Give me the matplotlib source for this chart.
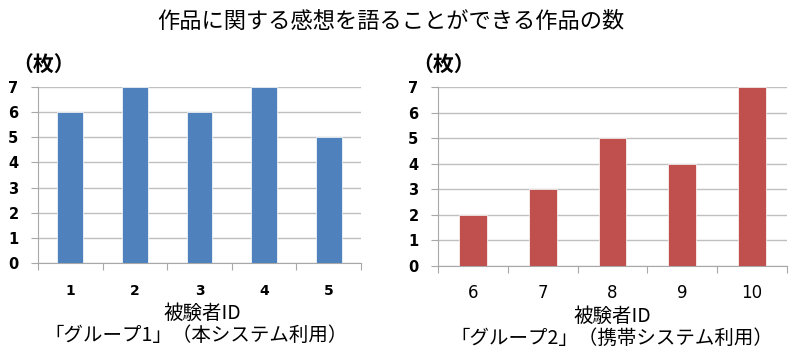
import numpy as np
import matplotlib
matplotlib.use("Agg")
import matplotlib.pyplot as plt

plt.rcParams['font.family'] = ['Noto Sans CJK JP', 'DejaVu Sans']

# data
ids_g1 = ["1", "2", "3", "4", "5"]
counts_g1 = [6, 7, 6, 7, 5]
ids_g2 = ["6", "7", "8", "9", "10"]
counts_g2 = [2, 3, 5, 4, 7]

title = "作品に関する感想を語ることができる作品の数"
unit = "（枚）"
xlabel = "被験者ID"
group1 = "「グループ1」（本システム利用）"
group2 = "「グループ2」（携帯システム利用）"

W, H = 800, 356
fig = plt.figure(figsize=(8, 3.56), dpi=100)

def px(x0, y0, x1, y1):
    return [x0 / W, 1 - y1 / H, (x1 - x0) / W, (y1 - y0) / H]

def draw(ax, ids, counts, color, bold_x, label_y):
    x = np.arange(len(ids))
    ax.bar(x, counts, width=0.4, color=color, edgecolor='white', linewidth=0.5, zorder=3)
    ax.set_xlim(-0.5, len(ids) - 0.5)
    ax.set_ylim(0, 7)
    ax.set_yticks(range(0, 8))
    ax.yaxis.grid(True, color='#c0c0c0', linewidth=1, zorder=0)
    for s in ['top', 'right']:
        ax.spines[s].set_visible(False)
    for s in ['left', 'bottom']:
        ax.spines[s].set_color('#a8a8a8')
    ax.tick_params(axis='y', length=5, color='#a8a8a8', pad=9, labelsize=10.5)
    for lab in ax.get_yticklabels():
        lab.set_fontweight('bold')
        lab.set_family(['DejaVu Sans'])
    ax.set_xticks(np.arange(len(ids) + 1) - 0.5)
    ax.set_xticklabels([])
    ax.tick_params(axis='x', length=5, color='#a8a8a8')
    trans = ax.get_xaxis_transform()
    h = ax.get_position().height * H
    for i, t in enumerate(ids):
        ax.text(i, -label_y / h, t, transform=trans, ha='center', va='center',
                fontsize=10 if bold_x else 12, fontweight='bold' if bold_x else 'normal',
                family=['DejaVu Sans'])

ax1 = fig.add_axes(px(38, 87, 361, 263))
draw(ax1, ids_g1, counts_g1, '#4f81bd', True, 28)
ax2 = fig.add_axes(px(438, 87, 787, 266))
draw(ax2, ids_g2, counts_g2, '#c0504d', False, 27)

fig.text(391 / W, 1 - 21 / H, title, ha='center', va='center', fontsize=16)
fig.text(44 / W, 1 - 64 / H, unit, ha='center', va='center', fontsize=15, fontweight='bold')
fig.text(444 / W, 1 - 64 / H, unit, ha='center', va='center', fontsize=15, fontweight='bold')
fig.text(202 / W, 1 - 313 / H, xlabel, ha='center', va='center', fontsize=14)
fig.text(196 / W, 1 - 335 / H, group1, ha='center', va='center', fontsize=14)
fig.text(612 / W, 1 - 316 / H, xlabel, ha='center', va='center', fontsize=14)
fig.text(612 / W, 1 - 338 / H, group2, ha='center', va='center', fontsize=14)

fig.savefig("out.png", dpi=100)
